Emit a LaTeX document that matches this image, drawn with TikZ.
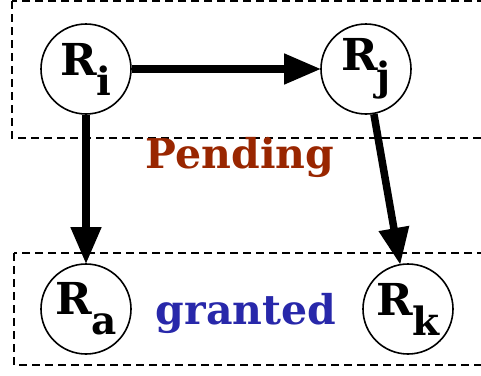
\documentclass[tikz,border=0pt]{standalone}
\usepackage{fontspec}
\setmainfont{DejaVu Serif}
\usetikzlibrary{arrows.meta}
\definecolor{pendred}{HTML}{992600}
\definecolor{grantblue}{HTML}{2828AA}
\newcommand{\rname}[1]{{\fontsize{44}{44}\selectfont R\kern-1pt\raisebox{-20pt}{\fontsize{39}{39}\selectfont #1}}}
\begin{document}
\begin{tikzpicture}[x=1pt,y=-1pt,
  res/.style={circle,draw,line width=1.6pt,minimum size=90pt,inner sep=0pt,font=\bfseries},
  region/.style={draw,line width=1.4pt,dash pattern=on 8pt off 5pt},
  flow/.style={line width=7.5pt,-{Triangle[length=37pt,width=29pt]},shorten >=-1pt},
  tag/.style={anchor=base,font=\bfseries\fontsize{41}{41}\selectfont}]
\useasboundingbox (0,0) rectangle (481,375);
\clip (0,0) rectangle (481,375);
% regions
\draw[region] (12,1) rectangle (495,138);
\draw[region] (14,253) rectangle (495,365);
% resources
\node[res] (ri) at (86,69) {\rname{i}};
\node[res] (rj) at (366,69) {\rname{j}};
\node[res] (ra) at (86,309) {\rname{a}};
\node[res] (rk) at (408,309) {\rname{k}};
% region labels
\node[tag,text=pendred] (pending) at (240,168) {Pending};
\node[tag,text=grantblue] (granted) at (246,324) {granted};
% dependencies
\draw[flow] (ri) -- (rj);
\draw[flow] (ri) -- (ra);
\draw[flow] (rj) -- (rk);
\end{tikzpicture}
\end{document}
